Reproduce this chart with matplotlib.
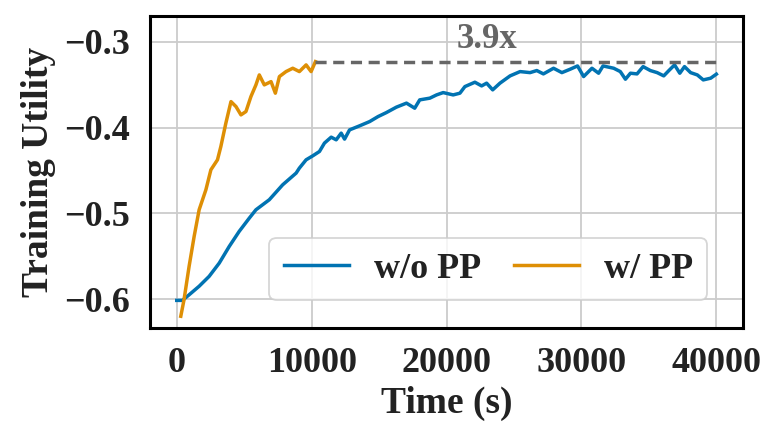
import matplotlib
matplotlib.use("Agg")
import matplotlib.pyplot as plt

# data
wo_pp_time = [0, 420, 915, 1660, 2400, 3150, 3890, 4630, 5380, 5870, 6860, 7850,
              8850, 9090, 9590, 10080, 10580, 10950, 11450, 11820, 12190, 12440,
              12810, 13550, 14300, 14920, 15540, 16280, 17030, 17640, 18010, 18760,
              19260, 19750, 20490, 20990, 21360, 22100, 22600, 22970, 23420, 23960,
              24710, 25450, 26190, 26690, 27180, 27930, 28550, 29170, 29710, 30160,
              30780, 31270, 31600, 32390, 32880, 33260, 33630, 34120, 34570, 35110,
              35610, 36100, 36480, 36900, 37290, 37640, 38090, 38590, 39030, 39580,
              40000]
wo_pp_util = [-0.6015, -0.6015, -0.595, -0.585, -0.5735, -0.558, -0.5386, -0.521,
              -0.5055, -0.4958, -0.4841, -0.4667, -0.453, -0.4472, -0.4375, -0.4329,
              -0.4278, -0.418, -0.4111, -0.4142, -0.4064, -0.4134, -0.4026, -0.3979,
              -0.3929, -0.3871, -0.3824, -0.3761, -0.3714, -0.3773, -0.3676, -0.3656,
              -0.3618, -0.3591, -0.3618, -0.3598, -0.3521, -0.347, -0.3513, -0.3481,
              -0.3559, -0.3481, -0.3396, -0.3346, -0.3358, -0.3334, -0.3373, -0.3307,
              -0.3358, -0.3318, -0.328, -0.3404, -0.3307, -0.3365, -0.328, -0.3307,
              -0.3346, -0.3435, -0.3365, -0.3373, -0.3288, -0.3334, -0.3358, -0.3396,
              -0.3334, -0.3268, -0.3365, -0.3288, -0.3358, -0.3385, -0.3443, -0.3423,
              -0.3376]

w_pp_time = [300, 540, 915, 1290, 1660, 2160, 2530, 3020, 3270, 3640, 4020, 4390,
             4760, 5130, 5500, 5870, 6120, 6490, 6990, 7310, 7610, 8100, 8600, 9090,
             9590, 9960, 10280]
w_pp_util = [-0.620, -0.6007, -0.5619, -0.5269, -0.4958, -0.4725, -0.4492, -0.4375,
             -0.422, -0.3948, -0.3696, -0.3754, -0.3851, -0.3812, -0.3637, -0.3501,
             -0.3385, -0.3501, -0.3463, -0.3598, -0.3404, -0.3346, -0.3307, -0.3346,
             -0.3268, -0.3346, -0.323]

speedup_label = "3.9x"

plt.rcParams["font.family"] = ["Liberation Serif", "DejaVu Serif"]
plt.rcParams["font.weight"] = "bold"
text_color = "#222222"

fig = plt.figure(figsize=(7.8, 4.43), dpi=100)
ax = fig.add_axes([0.192, 0.260, 0.761, 0.704])

ax.plot(wo_pp_time, wo_pp_util, color="#0173b2", lw=2.5, label="w/o PP")
ax.plot(w_pp_time, w_pp_util, color="#de8f05", lw=2.5, label="w/ PP")

# best w/ PP utility carried across
best = max(w_pp_util)
ax.plot([w_pp_time[-1], wo_pp_time[-1]], [best, best], color="#666666",
        lw=2.5, ls=(0, (3.2, 1.9)))
ax.text(23000, best + 0.007, speedup_label, color="#666666", fontsize=25,
        fontweight="bold", ha="center", va="bottom")

ax.set_xlim(-2000, 42000)
ax.set_ylim(-0.6335, -0.2697)
ax.set_xticks([0, 10000, 20000, 30000, 40000])
ax.set_yticks([-0.6, -0.5, -0.4, -0.3])
ax.set_yticklabels(["\u22120.6", "\u22120.5", "\u22120.4", "\u22120.3"])

ax.grid(True, color="#cccccc", lw=1.3)
ax.set_axisbelow(True)
for s in ax.spines.values():
    s.set_color("black")
    s.set_linewidth(2.2)
ax.tick_params(length=0, labelsize=26, colors=text_color, pad=14)

ax.set_xlabel("Time (s)", fontsize=27, fontweight="bold", color=text_color, labelpad=4)
ax.set_ylabel("Training Utility", fontsize=27, fontweight="bold", color=text_color, labelpad=6)

leg = ax.legend(loc="lower right", ncol=2, fontsize=26, frameon=True, fancybox=True,
                handlelength=1.8, handletextpad=0.7, columnspacing=0.9, borderpad=0.4,
                bbox_to_anchor=(0.97, 0.03))
leg.get_frame().set_edgecolor("#cccccc")
leg.get_frame().set_linewidth(1.3)
for t in leg.get_texts():
    t.set_color(text_color)

plt.savefig("out.png", dpi=100)
